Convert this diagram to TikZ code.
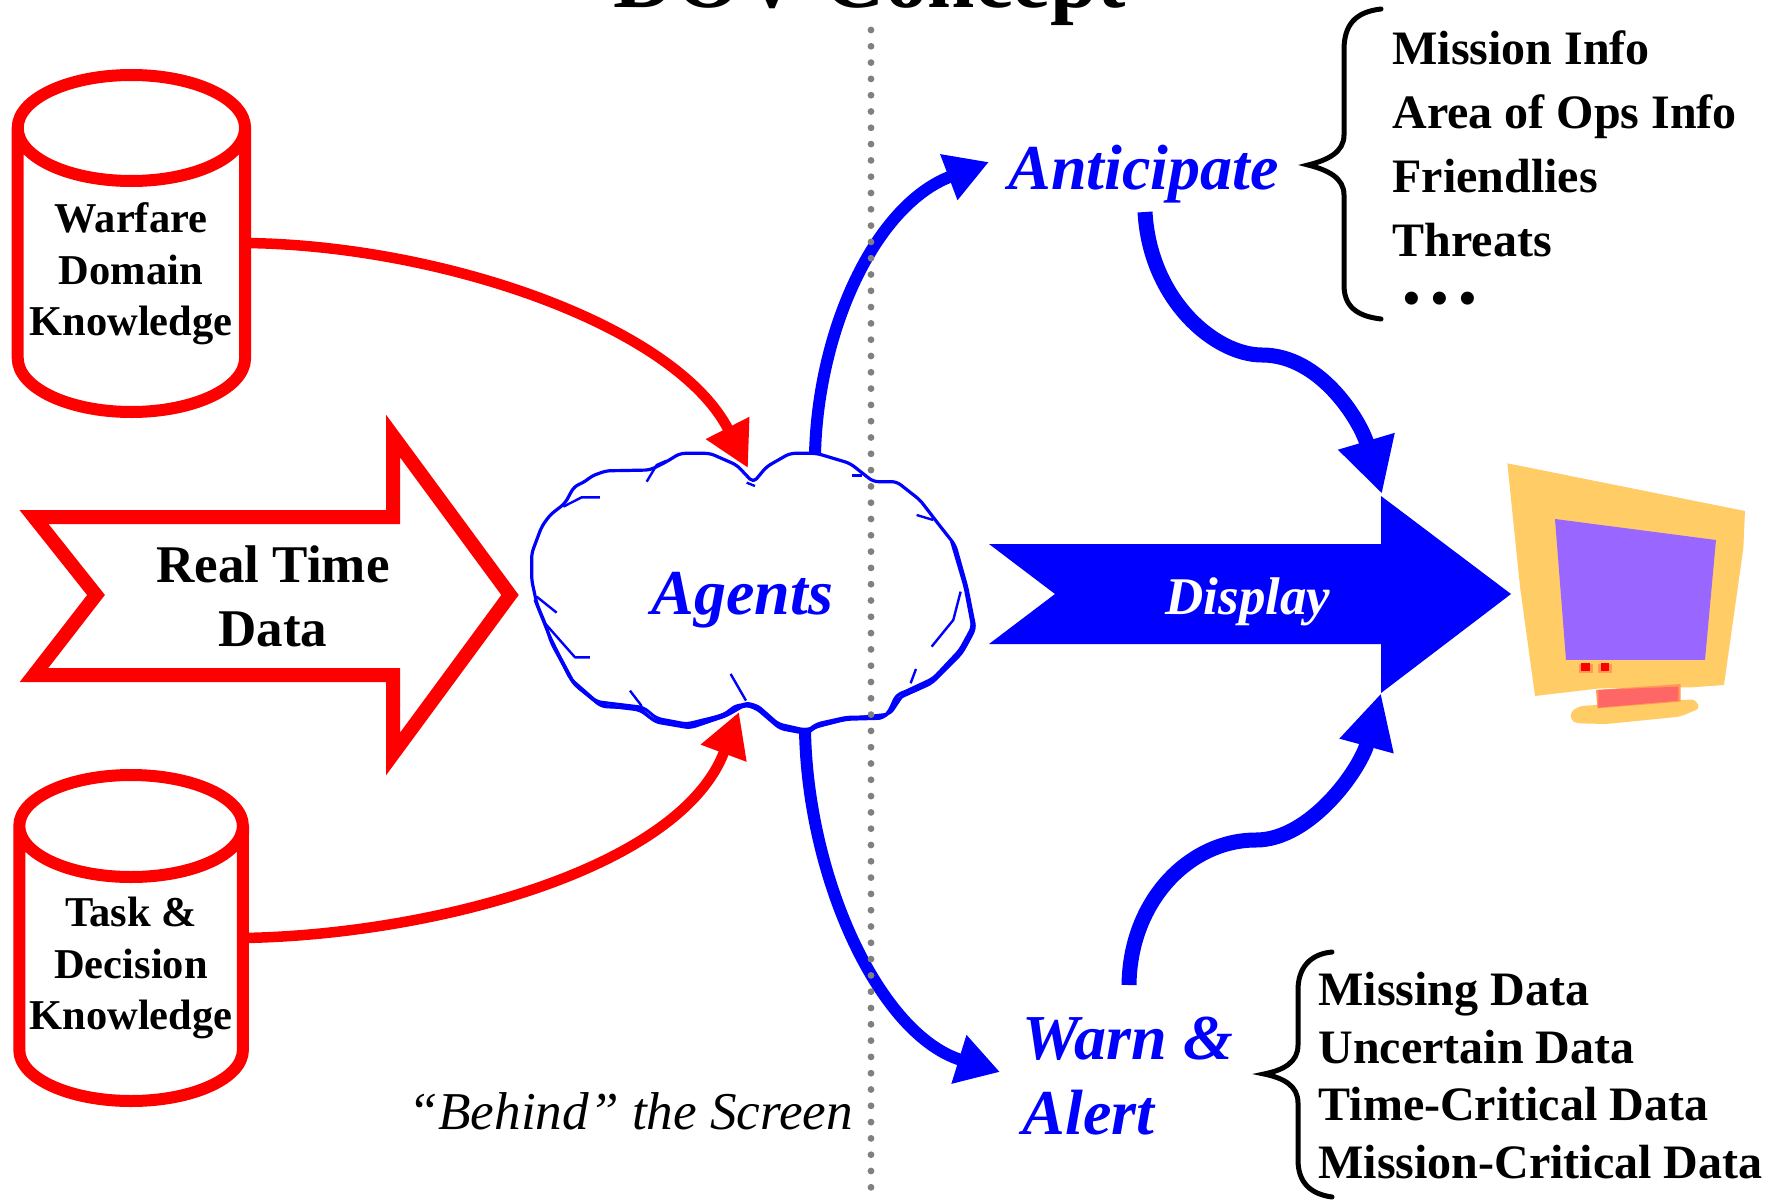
\documentclass[tikz,border=0pt]{standalone}
\usepackage{fontspec}
\setmainfont{Liberation Serif}
\usetikzlibrary{arrows.meta}
\definecolor{fr}{HTML}{FF0000}
\definecolor{bl}{HTML}{0000FF}
\definecolor{dt}{HTML}{808080}
\definecolor{mon}{HTML}{FFCC66}
\definecolor{scr}{HTML}{9966FF}
\definecolor{nck}{HTML}{FF6666}
\definecolor{edg}{HTML}{FF9955}
\tikzset{
	store/.style={draw=fr, line width=12pt, line join=round},
	storetxt/.style={font=\bfseries\fontsize{42.5}{51.5}\selectfont, align=center},
	listtxt/.style={font=\bfseries\fontsize{48}{64.2}\selectfont, align=left, anchor=north west},
	actxt/.style={font=\bfseries\itshape\fontsize{64}{75}\selectfont, text=bl, align=left},
	redarc/.style={draw=fr, line width=10.5pt},
	bluarc/.style={draw=bl, line width=12pt},
	brace/.style={draw=black, line width=5pt, line cap=round},
	rough/.style={draw=bl, line width=2.4pt, line join=round}
}
\begin{document}
\begin{tikzpicture}[x=1pt, y=-1pt]
	\clip (0,0) rectangle (1782,1199);
	\fill[white] (0,0) rectangle (1782,1199);

	% Title, cut by the page edge
	\node[font=\bfseries\fontsize{85}{85}\selectfont, anchor=base] (title) at (870,8) {DOV Concept};

	% Stores
	\draw[store] (17.7,128) arc[start angle=180, end angle=360, x radius=113.7pt, y radius=53pt]
		arc[start angle=0, end angle=180, x radius=113.7pt, y radius=53pt]
		-- (17.7,358) arc[start angle=180, end angle=360, x radius=113.7pt, y radius=54pt] -- (245,128);
	\draw[store] (19.3,826) arc[start angle=180, end angle=360, x radius=111.8pt, y radius=51pt]
		arc[start angle=0, end angle=180, x radius=111.8pt, y radius=51pt]
		-- (19.3,1050) arc[start angle=180, end angle=360, x radius=111.8pt, y radius=51pt] -- (243,826);
	\node[storetxt] (warfaretxt) at (131,274) {Warfare\\Domain\\Knowledge};
	\node[storetxt] (tasktxt) at (131,968) {Task \&\\Decision\\Knowledge};

	% Real time data arrow
	\draw[fr, line width=14pt, miter limit=10, fill=white]
		(34,517) -- (393,517) -- (393,436) -- (510,595) -- (393,754) -- (393,675) -- (34,675) -- (96,595) -- cycle;
	\node[font=\bfseries\fontsize{53}{64}\selectfont, align=center] (realtime) at (273,596) {Real Time\\Data};

	% End points of the arcs
	\coordinate (warfareout) at (245,243);
	\coordinate (taskout) at (243,938);
	\coordinate (cloudin) at (748,468);
	\coordinate (cloudinb) at (739,712);
	\coordinate (cloudtop) at (815,454);
	\coordinate (cloudbot) at (805,731);
	\coordinate (antin) at (989,162);
	\coordinate (warnin) at (1000,1072);
	\coordinate (antout) at (1145,212);
	\coordinate (warnout) at (1129,985);
	\coordinate (dsptop) at (1382,494);
	\coordinate (dspbot) at (1381,693);

	% Arcs into the agents
	\draw[redarc, -{Triangle[length=45pt,width=46pt]}] (warfareout) .. controls (440,245) and (675,325) .. (cloudin);
	\draw[redarc, -{Triangle[length=44pt,width=46pt]}] (taskout) .. controls (430,935) and (680,870) .. (cloudinb);

	% Arcs out of the agents
	\draw[bluarc, -{Triangle[length=43pt,width=46pt]}] (cloudtop) .. controls (818,330) and (875,205) .. (antin);
	\draw[bluarc, -{Triangle[length=43pt,width=48pt]}] (cloudbot) .. controls (808,880) and (880,1035) .. (warnin);

	% Arcs to the display
	\draw[bluarc, line width=15pt, -{Triangle[length=55pt,width=55pt]}] (antout) .. controls (1150,300) and (1215,355) .. (1262,355)
		.. controls (1320,355) and (1360,420) .. (dsptop);
	\draw[bluarc, line width=15pt, -{Triangle[length=55pt,width=52pt]}] (warnout) .. controls (1130,900) and (1190,840) .. (1256,840)
		.. controls (1310,840) and (1360,770) .. (dspbot);

	% Display arrow
	\fill[bl] (989,544) -- (1381,544) -- (1381,496) -- (1511,594) -- (1381,693) -- (1381,644) -- (989,644) -- (1055,594) -- cycle;
	\node[font=\bfseries\itshape\fontsize{53}{53}\selectfont, text=white] (display) at (1248,602) {Display};

	% Agents cloud, traced by hand
	\begin{scope}[shift={(500,420)}, x=0.3333pt, y=-0.3333pt]
		\draw[rough, line width=3.2pt, rounded corners=5pt]
			(350,152) -- (320,152) -- (275,168) -- (255,185) -- (222,200) -- (195,250) -- (150,285) -- (125,320) -- (95,400)
			-- (95,480) -- (110,550) -- (135,610) -- (155,670) -- (220,790) -- (300,855) -- (420,870) -- (460,900)
			-- (565,920) -- (680,880) -- (740,848) -- (775,860) -- (840,920) -- (920,935) -- (950,912) -- (1040,892)
			-- (1160,890) -- (1190,825) -- (1290,785) -- (1390,690) -- (1425,625) -- (1400,500) -- (1365,375)
			-- (1320,318) -- (1260,240) -- (1190,185) -- (1120,185) -- (1050,130) -- (950,100) -- (870,100)
			-- (800,140) -- (760,188) -- (710,135) -- (630,100) -- (540,100) -- (500,125) -- (450,150) -- cycle;
		\draw[rough, line width=3pt, rounded corners=5pt]
			(105,540) -- (145,640) -- (210,775) -- (290,845) -- (430,862) -- (470,895) -- (560,912) -- (670,885)
			-- (710,855) -- (770,855) -- (835,912) -- (915,930) -- (1035,898) -- (1170,882) -- (1215,815)
			-- (1300,775) -- (1380,690) -- (1418,620) -- (1395,500) -- (1355,365);
		\draw[rough, line width=3pt, rounded corners=5pt]
			(150,655) -- (225,795) -- (305,860) -- (420,865) -- (465,906) -- (570,924) -- (680,887) -- (735,855) -- (770,866)
			-- (840,926) -- (920,941) -- (952,918) -- (1040,898) -- (1150,895) -- (1195,835) -- (1295,790) -- (1385,700)
			-- (1420,635) -- (1405,530);
		\draw[rough] (440,185) -- (470,135) -- (500,122);
		\draw[rough] (300,232) -- (245,232) -- (190,260);
		\draw[rough] (110,530) -- (170,578);
		\draw[rough] (135,610) -- (225,712) -- (270,712);
		\draw[rough] (390,812) -- (425,858);
		\draw[rough] (692,762) -- (738,842);
		\draw[rough] (1232,790) -- (1248,747);
		\draw[rough] (1295,680) -- (1360,600) -- (1382,515);
		\draw[rough] (1250,285) -- (1300,300);
		\draw[rough] (1055,167) -- (1085,167);
		\draw[rough] (740,188) -- (765,198);
		\node[actxt] (agents) at (727,540) {Agents};
	\end{scope}

	% Divider
	\coordinate (divtop) at (871,30);
	\coordinate (divbot) at (871,1195);
	\draw[dt, line width=6.8pt, line cap=round, dash pattern=on 0pt off 16.3pt] (divtop) -- (divbot);
	\node[font=\itshape\fontsize{53.2}{53}\selectfont, anchor=base] (behind) at (631,1129) {“Behind” the Screen};

	% Monitor
	\begin{scope}[shift={(1480,440)}, x=0.3333pt, y=-0.3333pt]
		\fill[mon] (82,70) -- (795,213) -- (790,325) -- (732,735) -- (635,742) -- (360,745) -- (165,768) -- (120,440) -- cycle;
		\fill[mon, rounded corners=4pt] (272,815) -- (300,798) -- (645,778) -- (660,805) -- (600,830) -- (380,852) -- (290,850) -- (272,840) -- cycle;
		\fill[edg] (348,750) -- (602,732) -- (602,785) -- (352,805) -- cycle;
		\fill[nck] (355,750) -- (595,740) -- (595,782) -- (355,803) -- cycle;
		\fill[scr] (225,237) -- (708,300) -- (675,660) -- (258,660) -- cycle;
		\fill[edg] (296,672) rectangle (338,700);
		\fill[edg] (354,672) rectangle (396,700);
		\fill[fr] (303,669) rectangle (330,693);
		\fill[fr] (363,669) rectangle (388,693);
	\end{scope}

	% Anticipate and its list
	\node[actxt, anchor=base west] (anticipate) at (1005,189) {Anticipate};
	\draw[brace] (1381,9) .. controls (1355,12) and (1344,25) .. (1344,50) -- (1344,135) .. controls (1344,152) and (1328,160) .. (1308,165)
		.. controls (1328,170) and (1344,178) .. (1344,195) -- (1344,285) .. controls (1344,305) and (1355,316) .. (1381,319);
	\node[listtxt] (antlist) at (1389,27) {Mission Info\\Area of Ops Info\\Friendlies\\Threats};
	\node[font=\bfseries\fontsize{48}{48}\selectfont, anchor=base] (dots) at (1440,314) {•\kern11pt•\kern11pt•};

	% Warn and its list
	\node[actxt, anchor=base west] (warn) at (1019,1134) {Warn \&\\[0pt]Alert};
	\draw[brace] (1332,952) .. controls (1310,954) and (1298,968) .. (1298,990) -- (1298,1045) .. controls (1298,1062) and (1284,1070) .. (1264,1074)
		.. controls (1284,1078) and (1298,1086) .. (1298,1103) -- (1298,1160) .. controls (1298,1182) and (1310,1194) .. (1332,1197);
	\node[listtxt, font=\bfseries\fontsize{48}{57.5}\selectfont] (warnlist) at (1315,969) {Missing Data\\Uncertain Data\\Time-Critical Data\\Mission-Critical Data};
\end{tikzpicture}
\end{document}
